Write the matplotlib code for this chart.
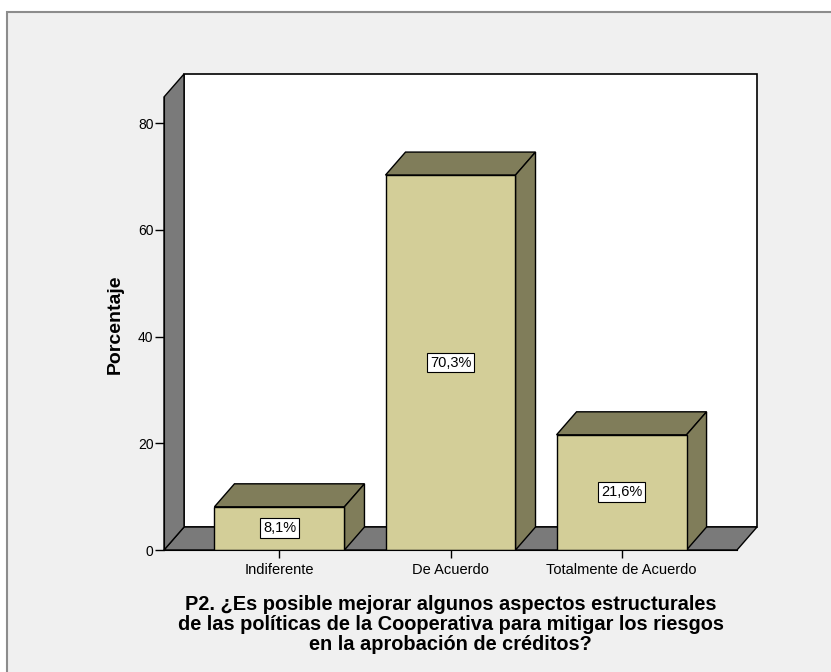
import matplotlib.pyplot as plt
from matplotlib.patches import Polygon, Rectangle

categories = ['Indiferente', 'De Acuerdo', 'Totalmente de Acuerdo']
percentages = [8.1, 70.3, 21.6]
pct_labels = ['8,1%', '70,3%', '21,6%']
yticks = [0, 20, 40, 60, 80]
title = ('P2. ¿Es posible mejorar algunos aspectos estructurales\n'
         'de las políticas de la Cooperativa para mitigar los riesgos\n'
         'en la aprobación de créditos?')

plt.rcParams['font.family'] = ['Liberation Sans', 'DejaVu Sans']

W, H = 831, 672
fig = plt.figure(figsize=(W / 100, H / 100), dpi=100)
fig.patch.set_facecolor('white')
# grey panel with frame line (behind the axes)
fig.add_artist(Rectangle((7 / W, -0.1), 1.2, (H - 12) / H + 0.1, transform=fig.transFigure,
                         facecolor='#f0f0f0', edgecolor='#8c8c8c', lw=1.5, zorder=-5))

# front plane: x 164..737 px, zero at y=550 px, 5.333 px per %
ax = fig.add_axes([164 / W, (H - 550) / H, 573 / W, 480 / H])
x0, x1 = -0.675, 2.675
ax.set_xlim(x0, x1)
ax.set_ylim(0, 90)
ax.patch.set_alpha(0)

dx, dy = 0.117, 4.31   # 3D depth in data units
ytop = 84.94
wall = '#7a7a7a'
front = '#d3ce98'
shade = '#807d5a'

# back wall, floor, left wall
ax.add_patch(Rectangle((x0 + dx, dy), x1 - x0, ytop, facecolor='white', edgecolor='black', lw=1.2, zorder=1, clip_on=False))
ax.add_patch(Polygon([(x0, 0), (x1, 0), (x1 + dx, dy), (x0 + dx, dy)], facecolor=wall, edgecolor='black', lw=1, zorder=2, clip_on=False))
ax.add_patch(Polygon([(x0, 0), (x0 + dx, dy), (x0 + dx, ytop + dy), (x0, ytop)], facecolor=wall, edgecolor='black', lw=1, zorder=2, clip_on=False))

bw = 0.76
xs = list(range(len(categories)))
ax.bar(xs, percentages, width=bw, color=front, edgecolor='black', lw=1, zorder=4)
for i, v in zip(xs, percentages):
    l, r = i - bw / 2, i + bw / 2
    ax.add_patch(Polygon([(l, v), (r, v), (r + dx, v + dy), (l + dx, v + dy)], facecolor=shade, edgecolor='black', lw=1, zorder=3))
    ax.add_patch(Polygon([(r, 0), (r + dx, dy), (r + dx, v + dy), (r, v)], facecolor=shade, edgecolor='black', lw=1, zorder=3))

for i, v, lab in zip(xs, percentages, pct_labels):
    ax.text(i, v / 2, lab, ha='center', va='center', fontsize=10.5, zorder=6,
            bbox=dict(boxstyle='square,pad=0.2', fc='white', ec='black', lw=0.8))

for s in ['top', 'right']:
    ax.spines[s].set_visible(False)
ax.spines['left'].set_bounds(0, ytop)
ax.spines['left'].set_zorder(5)
ax.spines['bottom'].set_zorder(5)

ax.set_yticks(yticks)
ax.set_xticks(xs, categories)
ax.tick_params(axis='y', length=6.5, width=1, pad=1, labelsize=10)
ax.tick_params(axis='x', length=6, width=1, pad=3, labelsize=10.5)

ax.set_ylabel('Porcentaje', fontsize=14, fontweight='bold')
ax.yaxis.set_label_coords(-0.07, 0.471)
ax.set_xlabel(title, fontsize=14.4, fontweight='bold', linespacing=1.06, labelpad=13.5)

fig.savefig('out.png', dpi=100)
